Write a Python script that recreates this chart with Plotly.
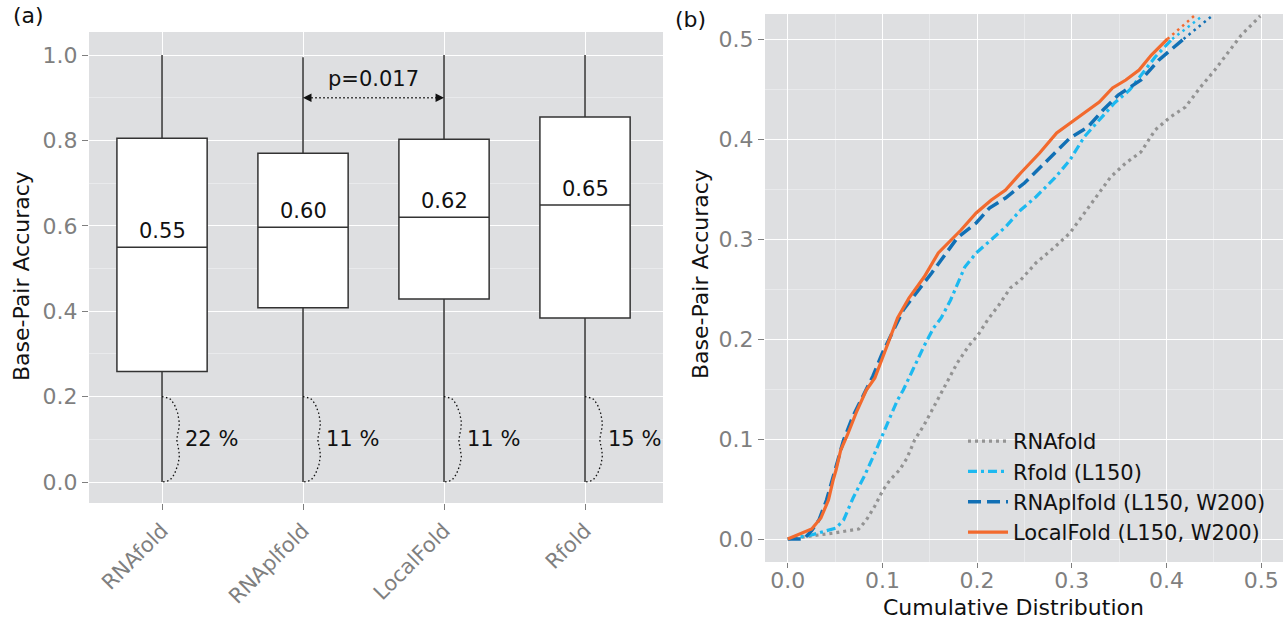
import numpy as np
import plotly.graph_objects as go

W, H = 1287, 626

# ---------------- Panel (a) data ----------------
methods = ["RNAfold", "RNAplfold", "LocalFold", "Rfold"]
q1 = [0.259, 0.408, 0.429, 0.384]
median = [0.550, 0.597, 0.620, 0.649]
q3 = [0.805, 0.770, 0.803, 0.855]
lower = [0.0, 0.0, 0.0, 0.0]
upper = [1.0, 0.995, 1.0, 1.0]
median_labels = ["0.55", "0.60", "0.62", "0.65"]
low_pct = ["22 %", "11 %", "11 %", "15 %"]
p_label = "p=0.017"
p_pair = [1, 2]
p_y = 0.90

# ---------------- Panel (b) data ----------------
local_x = [0, 0.0253, 0.035, 0.043, 0.048, 0.051, 0.056, 0.063, 0.073, 0.083, 0.092, 0.0996, 0.108, 0.116,
           0.128, 0.144, 0.159, 0.183, 0.199, 0.215, 0.230, 0.246, 0.266, 0.284, 0.298, 0.313, 0.329, 0.343,
           0.357, 0.371, 0.384, 0.401]
local_y = [0, 0.010, 0.021, 0.039, 0.059, 0.069, 0.089, 0.104, 0.128, 0.149, 0.161, 0.179, 0.201, 0.221,
           0.241, 0.262, 0.286, 0.309, 0.326, 0.339, 0.349, 0.366, 0.386, 0.406, 0.416, 0.426, 0.437, 0.451,
           0.459, 0.469, 0.484, 0.500]
local_ext_x = [0.401, 0.429]
local_ext_y = [0.500, 0.523]

plf_x = [0, 0.017, 0.025, 0.033, 0.041, 0.047, 0.053, 0.059, 0.069, 0.081, 0.090, 0.100, 0.112, 0.122,
         0.130, 0.152, 0.179, 0.199, 0.213, 0.230, 0.250, 0.274, 0.298, 0.317, 0.333, 0.349, 0.373, 0.392, 0.418]
plf_y = [0, 0.0, 0.008, 0.019, 0.039, 0.059, 0.078, 0.099, 0.123, 0.146, 0.163, 0.186, 0.209, 0.229,
         0.239, 0.266, 0.301, 0.316, 0.331, 0.341, 0.356, 0.379, 0.401, 0.412, 0.429, 0.444, 0.459, 0.479, 0.500]
plf_ext_x = [0.418, 0.448]
plf_ext_y = [0.500, 0.523]

rf_x = [0, 0.025, 0.051, 0.059, 0.069, 0.081, 0.092, 0.100, 0.110, 0.116, 0.122, 0.132, 0.144, 0.154,
        0.162, 0.172, 0.187, 0.199, 0.215, 0.230, 0.246, 0.262, 0.282, 0.298, 0.313, 0.329, 0.345, 0.361,
        0.376, 0.388, 0.400, 0.406]
rf_y = [0, 0.004, 0.011, 0.019, 0.041, 0.063, 0.086, 0.103, 0.126, 0.139, 0.149, 0.169, 0.193, 0.211,
        0.221, 0.239, 0.272, 0.286, 0.299, 0.312, 0.329, 0.342, 0.361, 0.379, 0.402, 0.419, 0.436, 0.449,
        0.467, 0.482, 0.494, 0.500]
rf_ext_x = [0.406, 0.438]
rf_ext_y = [0.500, 0.523]

rna_x = [0, 0.025, 0.049, 0.075, 0.083, 0.092, 0.100, 0.108, 0.118, 0.126, 0.134, 0.144, 0.152, 0.162,
         0.170, 0.179, 0.191, 0.201, 0.211, 0.223, 0.235, 0.246, 0.262, 0.282, 0.298, 0.313, 0.329, 0.341,
         0.357, 0.373, 0.388, 0.404, 0.420, 0.436, 0.451, 0.467, 0.479, 0.499]
rna_y = [0, 0.003, 0.006, 0.010, 0.019, 0.033, 0.048, 0.059, 0.069, 0.081, 0.099, 0.114, 0.128, 0.146,
         0.159, 0.176, 0.193, 0.204, 0.219, 0.234, 0.251, 0.259, 0.276, 0.292, 0.306, 0.326, 0.347, 0.362,
         0.376, 0.387, 0.409, 0.422, 0.432, 0.452, 0.469, 0.489, 0.504, 0.523]

series_names = ["RNAfold", "Rfold (L150)", "RNAplfold (L150, W200)", "LocalFold (L150, W200)"]
c_gray = "#939393"
c_light = "#1db9f0"
c_dark = "#1170b5"
c_orange = "#f26a2e"

BG = "#dedfe1"
GRID = "#ffffff"
MINOR = "#e9eaec"
TICKC = "#7f7f7f"
FONT = "DejaVu Sans"
TXT = "#111111"

def px_x(p):
    return p / W

def px_y(p):
    return 1 - p / H

fig = go.Figure()

pos = list(range(len(methods)))

fig.add_trace(go.Box(
    x=pos, q1=q1, median=median, q3=q3, lowerfence=lower, upperfence=upper,
    width=0.64, whiskerwidth=0, boxpoints=False,
    fillcolor="white", line=dict(color="#333333", width=1.5),
    showlegend=False, hoverinfo="skip", xaxis="x", yaxis="y"))

# curly braces for lower-whisker fractions
t = np.linspace(0, 1, 60)
for i in pos:
    bx = i + 0.135 * np.sin(np.pi * t) ** 0.35 - 0.03 * np.exp(-((t - 0.5) / 0.13) ** 2)
    by = 0.2 * (1 - t)
    fig.add_trace(go.Scatter(x=bx, y=by, mode="lines",
                             line=dict(color=TXT, width=1.3, dash="1.5px,2.5px"),
                             showlegend=False, hoverinfo="skip", xaxis="x", yaxis="y"))

# p-value dotted line
fig.add_trace(go.Scatter(x=[p_pair[0] + 0.03, p_pair[1] - 0.03], y=[p_y, p_y], mode="lines",
                         line=dict(color=TXT, width=1.5, dash="1.5px,2.5px"),
                         showlegend=False, hoverinfo="skip", xaxis="x", yaxis="y"))

# panel (b) lines
fig.add_trace(go.Scatter(x=rna_x, y=rna_y, mode="lines", name=series_names[0],
                         line=dict(color=c_gray, width=3.2, dash="3px,4px"),
                         xaxis="x2", yaxis="y2"))
fig.add_trace(go.Scatter(x=rf_x, y=rf_y, mode="lines", name=series_names[1],
                         line=dict(color=c_light, width=3.2, dash="9px,4px,3px,4px"),
                         xaxis="x2", yaxis="y2"))
fig.add_trace(go.Scatter(x=plf_x, y=plf_y, mode="lines", name=series_names[2],
                         line=dict(color=c_dark, width=3.5, dash="13px,6px"),
                         xaxis="x2", yaxis="y2"))
fig.add_trace(go.Scatter(x=local_x, y=local_y, mode="lines", name=series_names[3],
                         line=dict(color=c_orange, width=3.2),
                         xaxis="x2", yaxis="y2"))
for ex, ey, col in [(rf_ext_x, rf_ext_y, c_light), (plf_ext_x, plf_ext_y, c_dark),
                    (local_ext_x, local_ext_y, c_orange)]:
    fig.add_trace(go.Scatter(x=ex, y=ey, mode="lines", showlegend=False, hoverinfo="skip",
                             line=dict(color=col, width=2.5, dash="2.5px,4px"),
                             xaxis="x2", yaxis="y2"))

annotations = []
for i in pos:
    annotations.append(dict(x=i, y=median[i], xref="x", yref="y", text=median_labels[i],
                            showarrow=False, xanchor="center", yanchor="middle", yshift=16,
                            font=dict(family=FONT, size=21, color=TXT)))
    annotations.append(dict(x=i + 0.15, y=0.1, xref="x", yref="y", text=low_pct[i],
                            showarrow=False, xanchor="left", yanchor="middle",
                            font=dict(family=FONT, size=21, color=TXT)))
annotations.append(dict(x=(p_pair[0] + p_pair[1]) / 2, y=p_y, xref="x", yref="y", text=p_label,
                        showarrow=False, xanchor="center", yanchor="middle", yshift=19,
                        font=dict(family=FONT, size=21, color=TXT)))
annotations.append(dict(x=p_pair[0], y=p_y, xref="x", yref="y", ax=p_pair[0] + 0.06, ay=p_y,
                        axref="x", ayref="y", text="", showarrow=True, arrowhead=2,
                        arrowsize=1.3, arrowwidth=1.3, arrowcolor=TXT))
annotations.append(dict(x=p_pair[1], y=p_y, xref="x", yref="y", ax=p_pair[1] - 0.06, ay=p_y,
                        axref="x", ayref="y", text="", showarrow=True, arrowhead=2,
                        arrowsize=1.3, arrowwidth=1.3, arrowcolor=TXT))
# panel labels
for lab, lx, ly in [("(a)", 28, 15), ("(b)", 690, 19)]:
    annotations.append(dict(x=px_x(lx), y=px_y(ly), xref="paper", yref="paper", text=lab, showarrow=False,
                            xanchor="center", yanchor="middle", font=dict(family=FONT, size=22, color=TXT)))
# axis titles
for tx, ty in [(22, 276), (700, 274)]:
    annotations.append(dict(x=px_x(tx), y=px_y(ty), xref="paper", yref="paper", text="Base-Pair Accuracy",
                            showarrow=False, textangle=-90, xanchor="center", yanchor="middle",
                            font=dict(family=FONT, size=22, color=TXT)))
annotations.append(dict(x=px_x(1013), y=px_y(607), xref="paper", yref="paper", text="Cumulative Distribution",
                        showarrow=False, xanchor="center", yanchor="middle",
                        font=dict(family=FONT, size=22, color=TXT)))

axis_common = dict(showline=False, zeroline=False, ticks="outside", ticklen=6, tickcolor=TICKC,
                   tickwidth=1.2, tickfont=dict(family=FONT, size=22, color=TICKC),
                   gridcolor=GRID, gridwidth=1.4)

fig.update_layout(
    width=W, height=H, margin=dict(l=0, r=0, t=0, b=0),
    paper_bgcolor="white", plot_bgcolor=BG,
    boxmode="overlay",
    showlegend=True,
    legend=dict(x=px_x(963), y=px_y(421), xanchor="left", yanchor="top",
                bgcolor="rgba(0,0,0,0)", font=dict(family=FONT, size=21, color=TXT),
                itemwidth=40, tracegroupgap=0),
    xaxis=dict(domain=[px_x(89), px_x(663)], range=[-0.518, 3.553], tickmode="array",
               tickvals=pos, ticktext=methods, tickangle=-45, showgrid=True, anchor="y",
               **{**axis_common, "tickfont": dict(family=FONT, size=21, color=TICKC)}),
    yaxis=dict(domain=[px_y(503), px_y(32)], range=[-0.049, 1.054], tickmode="array",
               tickvals=[0, 0.2, 0.4, 0.6, 0.8, 1.0], ticktext=["0.0", "0.2", "0.4", "0.6", "0.8", "1.0"],
               showgrid=True, anchor="x",
               minor=dict(tickmode="array", tickvals=[0.1, 0.3, 0.5, 0.7, 0.9], showgrid=True,
                          gridcolor=MINOR, gridwidth=1, ticks=""),
               **axis_common),
    xaxis2=dict(domain=[px_x(765), px_x(1283)], range=[-0.024, 0.523], tickmode="array",
                tickvals=[0, 0.1, 0.2, 0.3, 0.4, 0.5], ticktext=["0.0", "0.1", "0.2", "0.3", "0.4", "0.5"],
                showgrid=True, anchor="y2", ticklabelstandoff=-6,
                minor=dict(tickmode="array", tickvals=[0.05, 0.15, 0.25, 0.35, 0.45], showgrid=True,
                           gridcolor=MINOR, gridwidth=1, ticks=""),
                **{**axis_common, "ticklen": 5}),
    yaxis2=dict(domain=[px_y(562), px_y(14)], range=[-0.023, 0.525], tickmode="array",
                tickvals=[0, 0.1, 0.2, 0.3, 0.4, 0.5], ticktext=["0.0", "0.1", "0.2", "0.3", "0.4", "0.5"],
                showgrid=True, anchor="x2",
                minor=dict(tickmode="array", tickvals=[0.05, 0.15, 0.25, 0.35, 0.45], showgrid=True,
                           gridcolor=MINOR, gridwidth=1, ticks=""),
                **axis_common),
    annotations=annotations,
)

fig.write_html("out.html")
